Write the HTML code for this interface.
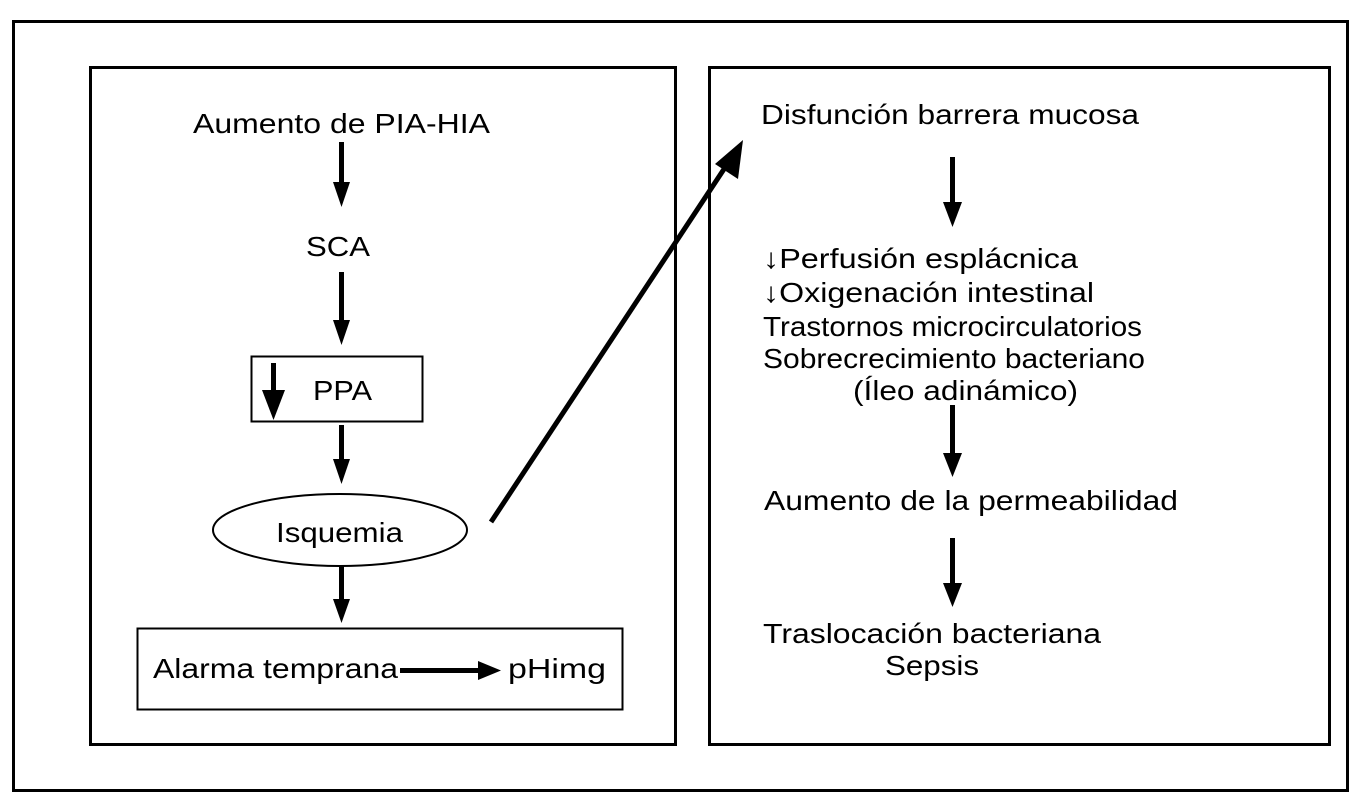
<!DOCTYPE html>
<html><head><meta charset="utf-8"><style>
html,body{margin:0;padding:0;background:#fff;}
svg{display:block;}
text{font-family:"Liberation Sans","DejaVu Sans",sans-serif;font-size:28px;fill:#000;}
</style></head><body>
<svg width="1362" height="807" viewBox="0 0 1362 807" xmlns="http://www.w3.org/2000/svg">
<defs>
<marker id="ah" markerWidth="10" markerHeight="10" refX="0" refY="5" orient="auto" markerUnits="userSpaceOnUse"></marker>
</defs>
<rect x="13.5" y="21.5" width="1334" height="769" fill="none" stroke="#000" stroke-width="3"/>
<rect x="90.5" y="67.5" width="585" height="677" fill="none" stroke="#000" stroke-width="3"/>
<rect x="709.5" y="67.5" width="620" height="677" fill="none" stroke="#000" stroke-width="3"/>

<g fill="#000" stroke="none">
<!-- left vertical arrows -->
<rect x="339" y="142" width="5" height="42"/><polygon points="333,182 350,182 341.5,207"/>
<rect x="339" y="272" width="5" height="50"/><polygon points="333,320 350,320 341.5,345"/>
<rect x="339" y="425" width="5" height="36"/><polygon points="333,459 350,459 341.5,484"/>
<rect x="339" y="565" width="5" height="36"/><polygon points="333,599 350,599 341.5,623"/>
<!-- in-box arrow PPA -->
<rect x="271" y="363" width="5" height="30"/><polygon points="262,390 285,390 273.5,420"/>
<!-- horizontal arrow -->
<rect x="400" y="668" width="80" height="5"/><polygon points="478,661 478,680 501,670.5"/>
<!-- right arrows -->
<rect x="950" y="157" width="5" height="47"/><polygon points="943,202 962,202 952.5,227"/>
<rect x="950" y="405" width="5" height="50"/><polygon points="943,453 962,453 952.5,477"/>
<rect x="950" y="538" width="5" height="47"/><polygon points="943,583 962,583 952.5,607"/>
</g>
<!-- diagonal arrow -->
<line x1="491" y1="522" x2="728" y2="163" stroke="#000" stroke-width="5"/>
<polygon points="743,140 738,179 715,164" fill="#000"/>

<rect x="251.5" y="356.5" width="171" height="65" fill="none" stroke="#000" stroke-width="2"/>
<ellipse cx="340" cy="530" rx="127" ry="36" fill="none" stroke="#000" stroke-width="2"/>
<rect x="137.5" y="628.5" width="485" height="81" fill="none" stroke="#000" stroke-width="2"/>

<text x="193" y="133" textLength="297" lengthAdjust="spacingAndGlyphs">Aumento de PIA-HIA</text>
<text x="306" y="256" textLength="64" lengthAdjust="spacingAndGlyphs">SCA</text>
<text x="313" y="400" textLength="59" lengthAdjust="spacingAndGlyphs">PPA</text>
<text x="276" y="542" textLength="127" lengthAdjust="spacingAndGlyphs">Isquemia</text>
<text x="153" y="678" textLength="245" lengthAdjust="spacingAndGlyphs">Alarma temprana</text>
<text x="508" y="678" textLength="98" lengthAdjust="spacingAndGlyphs">pHimg</text>

<text x="761" y="124" textLength="378" lengthAdjust="spacingAndGlyphs">Disfunción barrera mucosa</text>
<text x="763" y="268" textLength="315" lengthAdjust="spacingAndGlyphs">↓Perfusión esplácnica</text>
<text x="763" y="302" textLength="331" lengthAdjust="spacingAndGlyphs">↓Oxigenación intestinal</text>
<text x="763" y="336" textLength="379" lengthAdjust="spacingAndGlyphs">Trastornos microcirculatorios</text>
<text x="763" y="368" textLength="382" lengthAdjust="spacingAndGlyphs">Sobrecrecimiento bacteriano</text>
<text x="853" y="400" textLength="225" lengthAdjust="spacingAndGlyphs">(Íleo adinámico)</text>
<text x="764" y="510" textLength="414" lengthAdjust="spacingAndGlyphs">Aumento de la permeabilidad</text>
<text x="763" y="643" textLength="338" lengthAdjust="spacingAndGlyphs">Traslocación bacteriana</text>
<text x="885" y="675" textLength="94" lengthAdjust="spacingAndGlyphs">Sepsis</text>
</svg>
</body></html>
